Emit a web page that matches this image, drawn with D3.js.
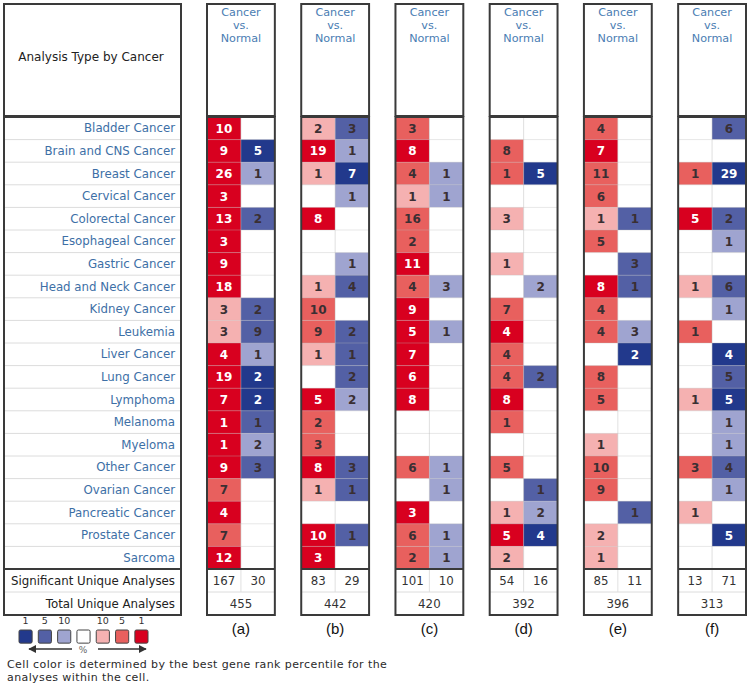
<!DOCTYPE html>
<html lang="en">
<head>
  <meta charset="UTF-8">
  <title>Analysis Type by Cancer</title>
  <script src="https://d3js.org/d3.v7.min.js"></script>
  <style>
    body { margin: 0; background: #fff; font-family: "DejaVu Sans", Verdana, sans-serif; }
  </style>
</head>
<body>
  <div id="chart"></div>
  <script>
    const cancers = ["Bladder Cancer", "Brain and CNS Cancer", "Breast Cancer", "Cervical Cancer",
      "Colorectal Cancer", "Esophageal Cancer", "Gastric Cancer", "Head and Neck Cancer",
      "Kidney Cancer", "Leukemia", "Liver Cancer", "Lung Cancer", "Lymphoma", "Melanoma",
      "Myeloma", "Other Cancer", "Ovarian Cancer", "Pancreatic Cancer", "Prostate Cancer", "Sarcoma"];
    const panels = ["a", "b", "c", "d", "e", "f"];

    // counts per cancer (0 = no cell); levels: 3 = top 1%, 2 = top 5%, 1 = top 10%
    const upCount = [
      [10, 9, 26, 3, 13, 3, 9, 18, 3, 3, 4, 19, 7, 1, 1, 9, 7, 4, 7, 12],
      [2, 19, 1, 0, 8, 0, 0, 1, 10, 9, 1, 0, 5, 2, 3, 8, 1, 0, 10, 3],
      [3, 8, 4, 1, 16, 2, 11, 4, 9, 5, 7, 6, 8, 0, 0, 6, 0, 3, 6, 2],
      [0, 8, 1, 0, 3, 0, 1, 0, 7, 4, 4, 4, 8, 1, 0, 5, 0, 1, 5, 2],
      [4, 7, 11, 6, 1, 5, 0, 8, 4, 4, 0, 8, 5, 0, 1, 10, 9, 0, 2, 1],
      [0, 0, 1, 0, 5, 0, 0, 1, 0, 1, 0, 0, 1, 0, 0, 3, 0, 1, 0, 0]
    ];
    const upLevel = [
      [3, 3, 3, 3, 3, 3, 3, 3, 1, 1, 3, 3, 3, 3, 3, 3, 2, 3, 2, 3],
      [1, 3, 1, 0, 3, 0, 0, 1, 2, 2, 1, 0, 3, 2, 2, 3, 1, 0, 3, 3],
      [2, 3, 2, 1, 2, 2, 3, 2, 3, 3, 3, 3, 3, 0, 0, 2, 0, 3, 2, 2],
      [0, 2, 2, 0, 1, 0, 1, 0, 2, 3, 2, 2, 3, 2, 0, 2, 0, 1, 3, 1],
      [2, 3, 2, 2, 1, 2, 0, 3, 2, 2, 0, 2, 2, 0, 1, 2, 2, 0, 1, 1],
      [0, 0, 2, 0, 3, 0, 0, 1, 0, 2, 0, 0, 1, 0, 0, 2, 0, 1, 0, 0]
    ];
    const downCount = [
      [0, 5, 1, 0, 2, 0, 0, 0, 2, 9, 1, 2, 2, 1, 2, 3, 0, 0, 0, 0],
      [3, 1, 7, 1, 0, 0, 1, 4, 0, 2, 1, 2, 2, 0, 0, 3, 1, 0, 1, 0],
      [0, 0, 1, 1, 0, 0, 0, 3, 0, 1, 0, 0, 0, 0, 0, 1, 1, 0, 1, 1],
      [0, 0, 5, 0, 0, 0, 0, 2, 0, 0, 0, 2, 0, 0, 0, 0, 1, 2, 4, 0],
      [0, 0, 0, 0, 1, 0, 3, 1, 0, 3, 2, 0, 0, 0, 0, 0, 0, 1, 0, 0],
      [6, 0, 29, 0, 2, 1, 0, 6, 1, 0, 4, 5, 5, 1, 1, 4, 1, 0, 5, 0]
    ];
    const downLevel = [
      [0, 3, 1, 0, 2, 0, 0, 0, 2, 2, 1, 3, 3, 2, 1, 2, 0, 0, 0, 0],
      [2, 1, 3, 1, 0, 0, 1, 2, 0, 2, 2, 2, 1, 0, 0, 2, 2, 0, 2, 0],
      [0, 0, 1, 1, 0, 0, 0, 1, 0, 1, 0, 0, 0, 0, 0, 1, 1, 0, 1, 1],
      [0, 0, 3, 0, 0, 0, 0, 1, 0, 0, 0, 2, 0, 0, 0, 0, 2, 1, 3, 0],
      [0, 0, 0, 0, 2, 0, 2, 2, 0, 1, 3, 0, 0, 0, 0, 0, 0, 2, 0, 0],
      [2, 0, 3, 0, 2, 1, 0, 2, 1, 0, 3, 2, 3, 1, 1, 2, 1, 0, 3, 0]
    ];
    const sigUp = [167, 83, 101, 54, 85, 13];
    const sigDown = [30, 29, 10, 16, 11, 71];
    const totalAnalyses = [455, 442, 420, 392, 396, 313];
    const legendLabels = ["1", "5", "10", "", "10", "5", "1"];

    const redColors = ["#ffffff", "#f5b1b1", "#e8605e", "#d8001f"];
    const blueColors = ["#ffffff", "#9fa4d0", "#5360a5", "#22398c"];
    const legendColors = [blueColors[3], blueColors[2], blueColors[1], "#ffffff", redColors[1], redColors[2], redColors[3]];

    const W = 751, H = 690;
    const svg = d3.select("#chart").append("svg").attr("width", W).attr("height", H);

    const headTop = 4, headBottom = 116, bodyTop = 117;
    const y = d3.scaleBand().domain(cancers).range([bodyTop, bodyTop + 22.6 * cancers.length]);
    const rowH = y.bandwidth();
    const sigY = y.range()[1], totY = sigY + 23, bodyBottom = totY + 23;

    const x = d3.scaleBand().domain(panels).range([207, 746]).paddingInner(0.28);
    const sub = d3.scaleBand().domain(["up", "down"]).range([0, x.bandwidth()]);

    const lineDark = "#3a3a3a", lineLight = "#dcdcdc", labelBlue = "#3d6fa6";
    const fs = "11.8px";

    // left label column
    const left = svg.append("g");
    left.append("rect").attr("x", 4).attr("y", headTop).attr("width", 177).attr("height", headBottom - headTop)
      .attr("fill", "#fff").attr("stroke", lineDark).attr("stroke-width", 2);
    left.append("text").attr("x", 91).attr("y", 61).attr("text-anchor", "middle")
      .style("font-size", "12px").attr("fill", "#222").text("Analysis Type by Cancer");

    left.selectAll(".sep").data(cancers.slice(1)).join("line")
      .attr("x1", 4).attr("x2", 181).attr("y1", d => y(d)).attr("y2", d => y(d))
      .attr("stroke", lineLight).attr("stroke-width", 1);
    left.selectAll(".lab").data(cancers).join("text")
      .attr("x", 175).attr("y", d => y(d) + rowH / 2 + 4).attr("text-anchor", "end")
      .style("font-size", fs).attr("fill", labelBlue).text(d => d);
    left.append("line").attr("x1", 4).attr("x2", 181).attr("y1", totY).attr("y2", totY)
      .attr("stroke", lineLight);
    left.append("line").attr("x1", 4).attr("x2", 181).attr("y1", sigY).attr("y2", sigY)
      .attr("stroke", lineDark).attr("stroke-width", 2);
    left.append("text").attr("x", 175).attr("y", sigY + 16).attr("text-anchor", "end")
      .style("font-size", fs).attr("fill", "#222").text("Significant Unique Analyses");
    left.append("text").attr("x", 175).attr("y", totY + 16).attr("text-anchor", "end")
      .style("font-size", fs).attr("fill", "#222").text("Total Unique Analyses");
    left.append("rect").attr("x", 4).attr("y", bodyTop).attr("width", 177).attr("height", bodyBottom - bodyTop)
      .attr("fill", "none").attr("stroke", lineDark).attr("stroke-width", 2);

    // panels
    panels.forEach((p, i) => {
      const g = svg.append("g").attr("transform", `translate(${x(p)},0)`);
      const bw = x.bandwidth();

      g.append("rect").attr("x", 0).attr("y", headTop).attr("width", bw).attr("height", headBottom - headTop)
        .attr("fill", "#fff").attr("stroke", lineDark).attr("stroke-width", 2);
      g.selectAll(".hd").data(["Cancer", "vs.", "Normal"]).join("text")
        .attr("x", bw / 2).attr("y", (d, k) => 16 + k * 13).attr("text-anchor", "middle")
        .style("font-size", "11.2px").attr("fill", "#4a7db3").text(d => d);

      const cells = cancers.map((c, r) => ({c, r}));
      ["up", "down"].forEach(side => {
        const levels = side === "up" ? upLevel[i] : downLevel[i];
        const colors = side === "up" ? redColors : blueColors;
        g.selectAll(".cell-" + side).data(cells).join("rect")
          .attr("x", sub(side)).attr("y", d => y(d.c)).attr("width", sub.bandwidth()).attr("height", rowH)
          .attr("fill", d => colors[levels[d.r]]);
      });

      // faint grid inside the panel
      g.selectAll(".hl").data(cancers.slice(1)).join("line")
        .attr("x1", 0).attr("x2", bw).attr("y1", d => y(d)).attr("y2", d => y(d))
        .attr("stroke", "#bbb").attr("stroke-opacity", 0.35);
      g.append("line").attr("x1", sub("down")).attr("x2", sub("down")).attr("y1", bodyTop).attr("y2", totY)
        .attr("stroke", "#bbb").attr("stroke-opacity", 0.45);

      ["up", "down"].forEach(side => {
        const counts = side === "up" ? upCount[i] : downCount[i];
        const levels = side === "up" ? upLevel[i] : downLevel[i];
        g.selectAll(".num-" + side).data(cells.filter(d => counts[d.r] > 0)).join("text")
          .attr("x", sub(side) + sub.bandwidth() / 2).attr("y", d => y(d.c) + rowH / 2 + 4.5)
          .attr("text-anchor", "middle").style("font-size", "12px").style("font-weight", "bold")
          .attr("fill", d => levels[d.r] === 3 ? "#fff" : "#3a2f33").text(d => counts[d.r]);
      });

      g.append("line").attr("x1", 0).attr("x2", bw).attr("y1", totY).attr("y2", totY).attr("stroke", lineLight);
      g.append("line").attr("x1", 0).attr("x2", bw).attr("y1", sigY).attr("y2", sigY)
        .attr("stroke", lineDark).attr("stroke-width", 2);

      g.append("text").attr("x", sub("up") + sub.bandwidth() / 2).attr("y", sigY + 16).attr("text-anchor", "middle")
        .style("font-size", fs).attr("fill", "#333").text(sigUp[i]);
      g.append("text").attr("x", sub("down") + sub.bandwidth() / 2).attr("y", sigY + 16).attr("text-anchor", "middle")
        .style("font-size", fs).attr("fill", "#333").text(sigDown[i]);
      g.append("text").attr("x", bw / 2).attr("y", totY + 16).attr("text-anchor", "middle")
        .style("font-size", fs).attr("fill", "#333").text(totalAnalyses[i]);

      g.append("rect").attr("x", 0).attr("y", bodyTop).attr("width", bw).attr("height", bodyBottom - bodyTop)
        .attr("fill", "none").attr("stroke", lineDark).attr("stroke-width", 2);

      g.append("text").attr("x", bw / 2).attr("y", bodyBottom + 19).attr("text-anchor", "middle")
        .style("font-family", "'Liberation Sans', Arial, sans-serif").style("font-size", "15px")
        .attr("fill", "#111").text(`(${p})`);
    });

    // legend
    const lx = d3.scaleBand().domain(d3.range(legendColors.length)).range([19, 148]).paddingInner(0.32);
    const leg = svg.append("g");
    leg.selectAll("rect").data(legendColors).join("rect")
      .attr("x", (d, k) => lx(k)).attr("y", 630).attr("width", lx.bandwidth()).attr("height", lx.bandwidth())
      .attr("rx", 1.5).attr("fill", d => d).attr("stroke", "#444").attr("stroke-width", 1);
    leg.selectAll("text.n").data(legendLabels).join("text")
      .attr("x", (d, k) => lx(k) + lx.bandwidth() / 2).attr("y", 624).attr("text-anchor", "middle")
      .style("font-size", "9.5px").attr("fill", "#333").text(d => d);
    const defs = svg.append("defs");
    defs.append("marker").attr("id", "arr").attr("viewBox", "0 0 10 10").attr("refX", 9).attr("refY", 5)
      .attr("markerWidth", 6).attr("markerHeight", 6).attr("orient", "auto-start-reverse")
      .append("path").attr("d", "M0,0L10,5L0,10z").attr("fill", "#333");
    leg.append("line").attr("x1", 72).attr("x2", 29).attr("y1", 649).attr("y2", 649)
      .attr("stroke", "#333").attr("stroke-width", 1.3).attr("marker-end", "url(#arr)");
    leg.append("line").attr("x1", 98).attr("x2", 146).attr("y1", 649).attr("y2", 649)
      .attr("stroke", "#333").attr("stroke-width", 1.3).attr("marker-end", "url(#arr)");
    leg.append("text").attr("x", 83).attr("y", 653).attr("text-anchor", "middle")
      .style("font-size", "9px").attr("fill", "#666").text("%");

    svg.selectAll(".caption").data(["Cell color is determined by the best gene rank percentile for the",
      "analyses within the cell."]).join("text")
      .attr("x", 7).attr("y", (d, k) => 668 + k * 13).style("font-size", "11px")
      .style("letter-spacing", "0.4px").attr("fill", "#2a2a2a").text(d => d);
  </script>
</body>
</html>
